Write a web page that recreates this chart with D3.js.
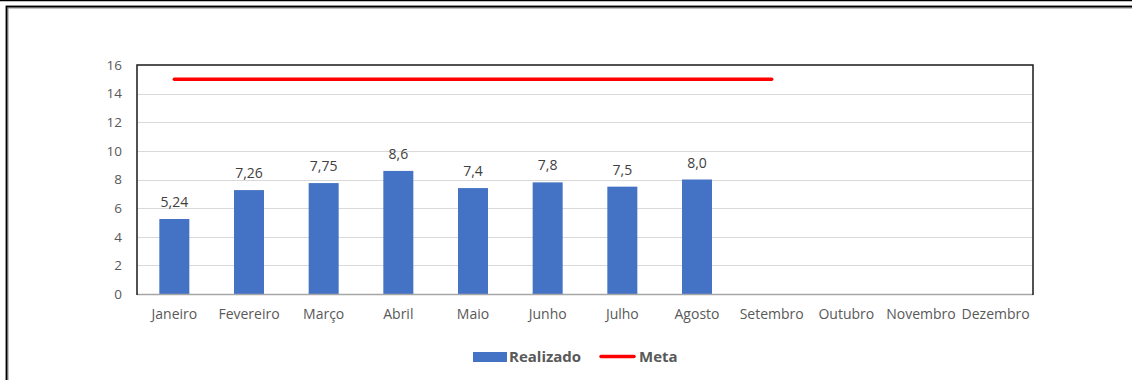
<!DOCTYPE html>
<html>
<head>
<meta charset="utf-8">
<script src="https://cdn.jsdelivr.net/npm/d3@7"></script>
<style>
  html, body { margin: 0; padding: 0; background: #fff; }
  svg { display: block; }
  text { font-family: "Open Sans", "Noto Sans", sans-serif; }
</style>
</head>
<body>
<svg id="chart" width="1132" height="380"></svg>
<script>
// Monthly indicator: realised values vs. target
const months = ["Janeiro", "Fevereiro", "Março", "Abril", "Maio", "Junho",
                "Julho", "Agosto", "Setembro", "Outubro", "Novembro", "Dezembro"];
const realizado = [5.24, 7.26, 7.75, 8.6, 7.4, 7.8, 7.5, 8.0];
const realizadoLabels = ["5,24", "7,26", "7,75", "8,6", "7,4", "7,8", "7,5", "8,0"];
const meta = [15, 15, 15, 15, 15, 15, 15, 15, 15];
const yTicks = [0, 2, 4, 6, 8, 10, 12, 14, 16];

const svg = d3.select("#chart");
const W = 1132, H = 380;
const plot = { left: 137, right: 1033, top: 65, bottom: 294 };

// outer frame
svg.append("line").attr("x1", 0).attr("x2", W).attr("y1", 0.5).attr("y2", 0.5)
  .attr("stroke", "#000").attr("stroke-width", 1.5);
svg.append("rect").attr("x", 7).attr("y", 7).attr("width", W).attr("height", H)
  .attr("fill", "none").attr("stroke", "#8c8c8c").attr("stroke-width", 3);
svg.append("rect").attr("x", 6.5).attr("y", 6.5).attr("width", W).attr("height", H)
  .attr("fill", "none").attr("stroke", "#000").attr("stroke-width", 1.5);

const x = d3.scaleBand().domain(months).range([plot.left, plot.right]).padding(0);
const y = d3.scaleLinear().domain([0, 16]).range([plot.bottom, plot.top]);

// gridlines
svg.append("g").selectAll("line").data(yTicks.filter(d => d > 0 && d < 16)).join("line")
  .attr("x1", plot.left).attr("x2", plot.right)
  .attr("y1", d => Math.round(y(d)) + 0.5).attr("y2", d => Math.round(y(d)) + 0.5)
  .attr("stroke", "#d9d9d9").attr("stroke-width", 1);

// y axis labels
const yAxis = d3.axisLeft(y).tickValues(yTicks).tickSize(0).tickPadding(15);
const gy = svg.append("g").attr("transform", `translate(${plot.left},0)`).call(yAxis);
gy.select(".domain").remove();
gy.selectAll("text").attr("fill", "#595959").attr("font-size", 13.5)
  .attr("font-family", "'Open Sans', sans-serif");

// x axis labels
const xAxis = d3.axisBottom(x).tickSize(0).tickPadding(15);
const gx = svg.append("g").attr("transform", `translate(0,${plot.bottom})`).call(xAxis);
gx.select(".domain").remove();
gx.selectAll("text").attr("fill", "#595959").attr("font-size", 14)
  .attr("font-family", "'Open Sans', sans-serif");

// bars
const barW = 30;
svg.append("g").selectAll("rect").data(realizado).join("rect")
  .attr("x", (d, i) => x(months[i]) + x.bandwidth() / 2 - barW / 2)
  .attr("width", barW)
  .attr("y", d => y(d))
  .attr("height", d => y(0) - y(d))
  .attr("fill", "#4472c4");

// data labels
svg.append("g").selectAll("text").data(realizado).join("text")
  .attr("x", (d, i) => x(months[i]) + x.bandwidth() / 2)
  .attr("y", d => y(d) - 12)
  .attr("text-anchor", "middle")
  .attr("font-size", 14)
  .attr("fill", "#404040")
  .text((d, i) => realizadoLabels[i]);

// target line
const line = d3.line()
  .x((d, i) => x(months[i]) + x.bandwidth() / 2)
  .y(d => y(d));
svg.append("path").datum(meta).attr("d", line)
  .attr("fill", "none").attr("stroke", "#ff0000").attr("stroke-width", 3.5)
  .attr("stroke-linecap", "round");

// plot border
svg.append("line").attr("x1", plot.left).attr("x2", plot.right)
  .attr("y1", plot.bottom + 0.5).attr("y2", plot.bottom + 0.5)
  .attr("stroke", "#a6a6a6").attr("stroke-width", 1.5);
svg.append("path")
  .attr("d", `M${plot.left},${plot.bottom + 1}V${plot.top}H${plot.right}V${plot.bottom + 1}`)
  .attr("fill", "none").attr("stroke", "#1a1a1a").attr("stroke-width", 1.5);

// legend
const leg = svg.append("g").attr("font-weight", "bold").attr("font-size", 15).attr("fill", "#595959");
leg.append("rect").attr("x", 473).attr("y", 352).attr("width", 34).attr("height", 10).attr("fill", "#4472c4");
leg.append("text").attr("x", 509).attr("y", 362).attr("fill", "#595959").text("Realizado");
leg.append("line").attr("x1", 601).attr("x2", 634).attr("y1", 356.5).attr("y2", 356.5)
  .attr("stroke", "#ff0000").attr("stroke-width", 3.5).attr("stroke-linecap", "round");
leg.append("text").attr("x", 639).attr("y", 362).attr("fill", "#595959").text("Meta");
</script>
</body>
</html>
